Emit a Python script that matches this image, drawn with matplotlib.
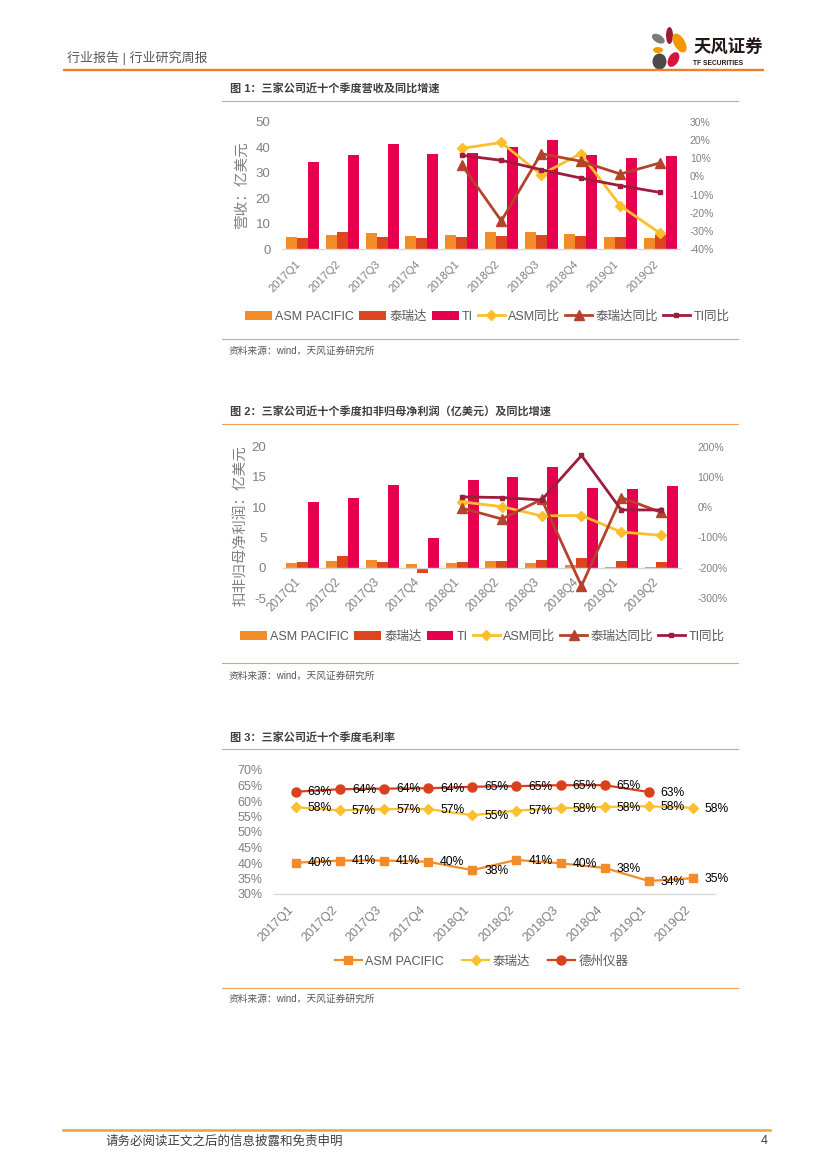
import numpy as np
import matplotlib
matplotlib.use('Agg')
import matplotlib.pyplot as plt
from matplotlib.patches import Ellipse
from matplotlib.ticker import FuncFormatter, MultipleLocator

plt.rcParams['font.family'] = ['Liberation Sans', 'Noto Sans CJK SC']
plt.rcParams['axes.unicode_minus'] = False

# ---------------- data ----------------
quarters = ['2017Q1', '2017Q2', '2017Q3', '2017Q4', '2018Q1',
            '2018Q2', '2018Q3', '2018Q4', '2019Q1', '2019Q2']
yoy_start = 4  # YoY series start at 2018Q1

# Fig 1: revenue (亿美元) and YoY
rev_asm = [4.7, 5.6, 6.5, 5.4, 5.6, 6.8, 6.7, 6.0, 4.7, 4.4]
rev_ter = [4.4, 6.8, 5.0, 4.6, 4.8, 5.2, 5.6, 5.2, 4.8, 5.5]
rev_ti = [34.1, 36.8, 41.3, 37.3, 37.9, 40.1, 42.7, 37.1, 35.8, 36.6]
rev_yoy_asm = [0.153, 0.186, 0.009, 0.125, -0.162, -0.312]
rev_yoy_ter = [0.064, -0.244, 0.125, 0.083, 0.013, 0.074]
rev_yoy_ti = [0.116, 0.088, 0.037, -0.009, -0.051, -0.088]

# Fig 2: net profit (亿美元) and YoY
np_asm = [0.71, 1.04, 1.20, 0.55, 0.82, 1.04, 0.82, 0.38, 0.10, 0.10]
np_ter = [0.88, 1.86, 0.99, -0.93, 0.88, 1.04, 1.26, 1.53, 1.15, 0.88]
np_ti = [10.9, 11.45, 13.75, 4.93, 14.5, 14.96, 16.6, 13.2, 13.04, 13.5]
np_yoy_asm = [0.175, 0.02, -0.285, -0.274, -0.82, -0.93]
np_yoy_ter = [-0.03, -0.39, 0.26, -2.60, 0.32, -0.17]
np_yoy_ti = [0.34, 0.32, 0.24, 1.71, -0.09, -0.09]

# Fig 3: gross margin
gm_asm = [0.401, 0.408, 0.408, 0.404, 0.377, 0.410, 0.399, 0.384, 0.342, 0.351]
gm_ter = [0.580, 0.570, 0.574, 0.574, 0.554, 0.569, 0.577, 0.581, 0.583, 0.578]
gm_ti = [0.630, 0.638, 0.640, 0.641, 0.646, 0.648, 0.651, 0.651, 0.629]

# ---------------- style ----------------
C_ASM = '#F28C28'
C_TER = '#DE441E'
C_TI = '#E6004D'
C_ASMY = '#FDBE2C'
C_TERY = '#B5432B'
C_TIY = '#9E1C3E'
C3_ASM = '#F28C28'
C3_TER = '#FBC02D'
C3_TI = '#D9411E'
GRAY = '#808080'
TXT = '#595959'
ORANGE = '#ED7D31'
RULE = '#F0A060'

W, H = 827, 1169
fig = plt.figure(figsize=(8.27, 11.69), dpi=100)


def rect(x0, x1, ytop, ybot):
    return [x0 / W, 1 - ybot / H, (x1 - x0) / W, (ybot - ytop) / H]


# page overlay (pixel coordinates)
bg = fig.add_axes([0, 0, 1, 1], zorder=0)
bg.set_xlim(0, W)
bg.set_ylim(H, 0)
bg.axis('off')

bg.text(67, 57.5, '行业报告 | 行业研究周报', fontsize=9.4, color=TXT, va='center')
bg.plot([63, 764], [69.5, 69.5], color=ORANGE, lw=1.7, solid_capstyle='butt')

# logo
petals = [((658.3, 38.7), 14, 8, 30, '#7b7b7b'),
          ((669.5, 35.5), 7, 17, 0, '#9b1b30'),
          ((679.5, 43.0), 11, 21, -30, '#F39800'),
          ((658.0, 50.0), 10, 6, 0, '#F39800'),
          ((673.5, 59.5), 10, 16, 30, '#D7143C'),
          ((659.5, 61.5), 14, 16, 0, '#4a4a4a')]
for c, w, h, a, col in petals:
    bg.add_patch(Ellipse(c, w, h, angle=a, color=col, lw=0))
bg.text(693, 47.5, '天风证券', fontsize=12.5, weight='bold', color='#231815', va='center')
bg.text(693, 63.5, 'TF SECURITIES', fontsize=4.8, weight='bold', color='#231815', va='center')

titles = [(89.5, '图 1：三家公司近十个季度营收及同比增速'),
          (412.5, '图 2：三家公司近十个季度扣非归母净利润（亿美元）及同比增速'),
          (738, '图 3：三家公司近十个季度毛利率')]
for y, t in titles:
    bg.text(230, y, t, fontsize=8, weight='bold', color='#404040', va='center')
for y in [100.7, 424, 749]:
    bg.plot([222, 738], [y, y], color=RULE, lw=0.8)
for y in [338.5, 663, 988]:
    bg.plot([222, 738], [y, y], color=RULE, lw=0.8)
for y in [350.5, 675.5, 998.5]:
    bg.text(229, y, '资料来源：wind，天风证券研究所', fontsize=7, color=TXT, va='center')

bg.plot([63, 770], [1129.5, 1129.5], color='#E8A33D', lw=1.8)
bg.text(105, 1141.5, '请务必阅读正文之后的信息披露和免责申明', fontsize=9, color='#404040', va='center')
bg.text(768, 1141.5, '4', fontsize=9, color='#404040', va='center', ha='right')


def pct0(v, _):
    return f"{v * 100:.0f}%"


def style_main(ax):
    for s in ['top', 'right', 'left']:
        ax.spines[s].set_visible(False)
    ax.spines['bottom'].set_color('#d9d9d9')
    ax.spines['bottom'].set_linewidth(1.0)
    ax.tick_params(length=0, labelcolor=GRAY)
    ax.patch.set_alpha(0)


def style_twin(ax):
    for s in ax.spines.values():
        s.set_visible(False)
    ax.tick_params(length=0, labelcolor=GRAY)
    ax.patch.set_alpha(0)


x = np.arange(len(quarters))
xy = x[yoy_start:]
bw = 0.277

# ---------------- chart 1 ----------------
ax1 = fig.add_axes(rect(283, 680, 121.7, 249.3), zorder=1)
style_main(ax1)
b1 = ax1.bar(x - bw, rev_asm, bw, color=C_ASM, label='ASM PACIFIC')
b2 = ax1.bar(x, rev_ter, bw, color=C_TER, label='泰瑞达')
b3 = ax1.bar(x + bw, rev_ti, bw, color=C_TI, label='TI')
ax1.set_xlim(-0.5, 9.5)
ax1.set_ylim(0, 50)
ax1.yaxis.set_major_locator(MultipleLocator(10))
ax1.tick_params(axis='y', labelsize=9.5, pad=9)
ax1.set_xticks(x)
ax1.set_xticklabels(quarters, rotation=45, ha='right', fontsize=8)
ax1.tick_params(axis='x', pad=7)
ax1.set_ylabel('营收：亿美元', fontsize=10.5, color=GRAY)
ax1.yaxis.set_label_coords(-0.087, 0.5)

ax1b = ax1.twinx()
style_twin(ax1b)
ax1b.set_zorder(2)
l1, = ax1b.plot(xy, rev_yoy_asm, color=C_ASMY, lw=2, marker='D', ms=5, label='ASM同比')
l2, = ax1b.plot(xy, rev_yoy_ter, color=C_TERY, lw=2, marker='^', ms=7, label='泰瑞达同比')
l3, = ax1b.plot(xy, rev_yoy_ti, color=C_TIY, lw=2, marker='s', ms=2.5, label='TI同比')
ax1b.set_ylim(-0.4, 0.3)
ax1b.yaxis.set_major_locator(MultipleLocator(0.1))
ax1b.yaxis.set_major_formatter(FuncFormatter(pct0))
ax1b.tick_params(axis='y', labelsize=7.5, pad=7)

leg_kw = dict(frameon=False, fontsize=9, handlelength=2.15, handletextpad=0.27,
              columnspacing=0.4, labelcolor=TXT, loc='center')
fig.legend([b1, b2, b3, l1, l2, l3], ['ASM PACIFIC', '泰瑞达', 'TI', 'ASM同比', '泰瑞达同比', 'TI同比'],
           ncol=6, bbox_to_anchor=(487 / W, 1 - 316.7 / H), **leg_kw)

# ---------------- chart 2 ----------------
ax2 = fig.add_axes(rect(283, 681, 446.7, 598), zorder=1)
style_main(ax2)
ax2.spines['bottom'].set_position(('data', 0))
c1 = ax2.bar(x - bw, np_asm, bw, color=C_ASM, label='ASM PACIFIC')
c2 = ax2.bar(x, np_ter, bw, color=C_TER, label='泰瑞达')
c3 = ax2.bar(x + bw, np_ti, bw, color=C_TI, label='TI')
ax2.set_xlim(-0.5, 9.5)
ax2.set_ylim(-5, 20)
ax2.yaxis.set_major_locator(MultipleLocator(5))
ax2.tick_params(axis='y', labelsize=9.5, pad=12)
ax2.set_xticks(x)
ax2.set_xticklabels(quarters, rotation=45, ha='right', fontsize=8.5)
ax2.tick_params(axis='x', pad=6)
ax2.set_ylabel('扣非归母净利润：亿美元', fontsize=10.5, color=GRAY)
ax2.yaxis.set_label_coords(-0.091, 0.476)

ax2b = ax2.twinx()
style_twin(ax2b)
ax2b.set_zorder(2)
m1, = ax2b.plot(xy, np_yoy_asm, color=C_ASMY, lw=2, marker='D', ms=5, label='ASM同比')
m2, = ax2b.plot(xy, np_yoy_ter, color=C_TERY, lw=2, marker='^', ms=7, label='泰瑞达同比')
m3, = ax2b.plot(xy, np_yoy_ti, color=C_TIY, lw=2, marker='s', ms=2.5, label='TI同比')
ax2b.set_ylim(-3, 2)
ax2b.yaxis.set_major_locator(MultipleLocator(1))
ax2b.yaxis.set_major_formatter(FuncFormatter(pct0))
ax2b.tick_params(axis='y', labelsize=7.5, pad=12)

fig.legend([c1, c2, c3, m1, m2, m3], ['ASM PACIFIC', '泰瑞达', 'TI', 'ASM同比', '泰瑞达同比', 'TI同比'],
           ncol=6, bbox_to_anchor=(482 / W, 1 - 636.7 / H), **leg_kw)

# ---------------- chart 3 ----------------
ax3 = fig.add_axes(rect(274, 714.8, 770, 894), zorder=1)
style_main(ax3)
p1, = ax3.plot(x, gm_asm, color=C3_ASM, lw=1.6, marker='s', ms=5.5, label='ASM PACIFIC')
p2, = ax3.plot(x, gm_ter, color=C3_TER, lw=1.6, marker='D', ms=5, label='泰瑞达')
p3, = ax3.plot(x[:len(gm_ti)], gm_ti, color=C3_TI, lw=1.6, marker='o', ms=6.5, label='德州仪器')
for series in (gm_ti, gm_ter, gm_asm):
    for xi, v in zip(x, series):
        ax3.annotate(f"{v * 100:.0f}%", (xi, v), xytext=(8.5, -0.5), textcoords='offset points',
                     ha='left', va='center', fontsize=8.7, color='black', annotation_clip=False)
ax3.set_xlim(-0.5, 9.5)
ax3.set_ylim(0.30, 0.70)
ax3.yaxis.set_major_locator(MultipleLocator(0.05))
ax3.yaxis.set_major_formatter(FuncFormatter(pct0))
ax3.tick_params(axis='y', labelsize=9, pad=8)
ax3.set_xticks(x)
ax3.set_xticklabels(quarters, rotation=45, ha='right', fontsize=9)
ax3.tick_params(axis='x', pad=7)

fig.legend([p1, p2, p3], ['ASM PACIFIC', '泰瑞达', '德州仪器'], ncol=3,
           bbox_to_anchor=(481.5 / W, 1 - 961.7 / H), frameon=False, fontsize=9,
           handlelength=2.2, handletextpad=0.27, columnspacing=1.4, labelcolor=TXT, loc='center')

fig.savefig('out.png', dpi=100)
